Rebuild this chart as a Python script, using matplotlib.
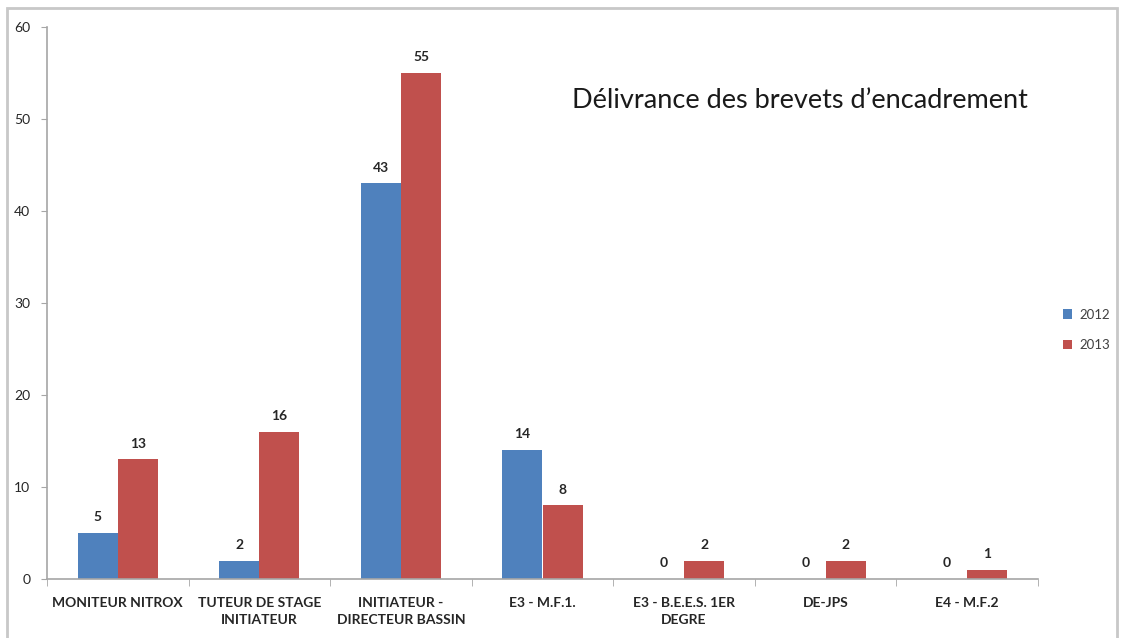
import numpy as np
import matplotlib
matplotlib.use("Agg")
import matplotlib.pyplot as plt
from matplotlib.patches import Rectangle

categories = ["MONITEUR NITROX", "TUTEUR DE STAGE\nINITIATEUR", "INITIATEUR -\nDIRECTEUR BASSIN",
              "E3 - M.F.1.", "E3 - B.E.E.S. 1ER\nDEGRE", "DE-JPS", "E4 - M.F.2"]
values_2012 = [5, 2, 43, 14, 0, 0, 0]
values_2013 = [13, 16, 55, 8, 2, 2, 1]
series_names = ["2012", "2013"]

blue = "#4F81BD"
red = "#C0504D"
grey = "#A6A6A6"
text_col = "#262626"

plt.rcParams['font.family'] = ['Lato', 'DejaVu Sans']

fig = plt.figure(figsize=(11.23, 6.38), dpi=100)
fig.patches.append(Rectangle((7 / 1123, -0.1), (1117 - 7) / 1123, 1.1 - 8 / 638,
                             transform=fig.transFigure, fill=False,
                             edgecolor="#C8C8C8", linewidth=2))

ax = fig.add_axes([47 / 1123, 1 - 579 / 638, (1038 - 47) / 1123, (579 - 27) / 638])

x = np.arange(len(categories))
w = 0.283
b1 = ax.bar(x - w / 2, values_2012, w, color=blue, label=series_names[0])
b2 = ax.bar(x + w / 2, values_2013, w, color=red, label=series_names[1])

for bars in (b1, b2):
    for rect in bars:
        h = rect.get_height()
        ax.annotate(f"{h:g}", (rect.get_x() + rect.get_width() / 2, h),
                    xytext=(0, 7), textcoords="offset points",
                    ha="center", va="bottom", fontsize=10, fontweight="bold",
                    color=text_col)

ax.set_xlim(-0.5, len(categories) - 0.5)
ax.set_ylim(0, 60)
ax.set_yticks(range(0, 61, 10))
ax.tick_params(axis="y", colors=grey, labelcolor=text_col, labelsize=10, length=4, pad=8)

ax.set_xticks(x)
ax.set_xticklabels(categories, fontsize=10, fontweight="bold", color=text_col,
                   linespacing=1.45)
ax.tick_params(axis="x", length=0, pad=13)
ax.set_xticks(np.arange(-0.5, len(categories), 1), minor=True)
ax.tick_params(axis="x", which="minor", length=5, color=grey)

for s in ("top", "right"):
    ax.spines[s].set_visible(False)
for s in ("left", "bottom"):
    ax.spines[s].set_color(grey)
    ax.spines[s].set_linewidth(1.2)

fig.text(800 / 1123, 1 - 101 / 638, "Délivrance des brevets d’encadrement",
         ha="center", va="center", fontsize=19.5, color="#1a1a1a")

fig.legend(loc="upper left", bbox_to_anchor=(1056 / 1123, 1 - 302 / 638),
           frameon=False, fontsize=9.5, handlelength=0.7, handleheight=0.7,
           labelspacing=1.4, handletextpad=0.6, borderpad=0, labelcolor="#404040")

fig.savefig("out.png", dpi=100)
